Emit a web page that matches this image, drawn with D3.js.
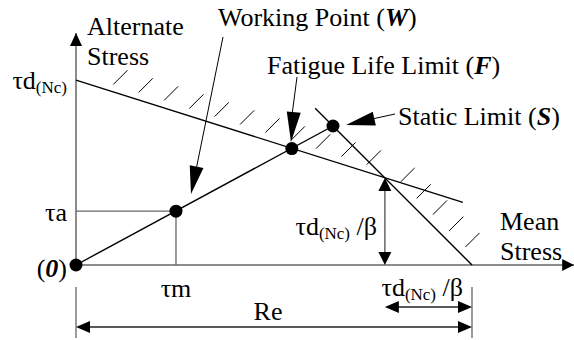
<!DOCTYPE html>
<html lang="en">
<head>
<meta charset="utf-8">
<title>Fatigue Diagram</title>
<script src="https://cdn.jsdelivr.net/npm/d3@7"></script>
<style>
  body { margin: 0; background: #fff; }
</style>
</head>
<body>
<svg id="chart" width="574" height="340"></svg>
<script>
// all stresses in units of Re
var limitNames = ["Re", "τd(Nc)", "τd(Nc)/β"];
var limitValues = [1.0, 0.467, 0.22];

var pointNames = ["0", "W", "F", "S"];
var pointMean = [0, 0.2525, 0.545, 0.649];
var pointAlt = [0, 0.136, 0.294, 0.351];

var fatigueMean = [0, 0.977];
var fatigueAlt = [0.467, 0.158];
var staticMean = [0.604, 1.0];
var staticAlt = [0.396, 0];

var axisEnd = [1.258, 0.586]; // mean, alternate

var svg = d3.select("#chart");
var x = d3.scaleLinear().domain([0, 1]).range([76, 472]);
var y = d3.scaleLinear().domain([0, 1]).range([265, -131]);

var FONT = "'Times New Roman', 'Liberation Serif', serif";
var FS = 26, SUB = 17;

function line(x1, y1, x2, y2, color, w) {
    return svg.append("line")
        .attr("x1", x1).attr("y1", y1).attr("x2", x2).attr("y2", y2)
        .attr("stroke", color).attr("stroke-width", w);
}

function arrowHead(tip, from, len, half) {
    var dx = tip[0] - from[0], dy = tip[1] - from[1];
    var d = Math.sqrt(dx * dx + dy * dy);
    var ux = dx / d, uy = dy / d;
    var bx = tip[0] - ux * len, by = tip[1] - uy * len;
    svg.append("path")
        .attr("d", "M" + tip[0] + "," + tip[1] +
            "L" + (bx - uy * half) + "," + (by + ux * half) +
            "L" + (bx + uy * half) + "," + (by - ux * half) + "Z")
        .attr("fill", "#000");
}

// hatching, drawn first so lines sit on top
function hatch(x0, y0, gap, len) {
    var c = Math.SQRT1_2;
    line(x0 + c * gap, y0 - c * gap, x0 + c * (gap + len), y0 - c * (gap + len), "#000", 1);
}
var fSlope = (fatigueAlt[1] - fatigueAlt[0]) / (fatigueMean[1] - fatigueMean[0]);
d3.range(0.08, 0.78, 0.064).forEach(function(m) {
    hatch(x(m), y(fatigueAlt[0] + fSlope * m), 8, 20);
});
d3.range(0.805, 0.99, 0.041).forEach(function(m) {
    hatch(x(m), y(1 - m), 8, 20);
});

// axes
line(x(0), y(0), x(axisEnd[0]), y(0), "#666", 1.5);
line(x(0), y(0), x(0), y(axisEnd[1]), "#666", 1.5);
arrowHead([x(axisEnd[0]), y(0)], [x(0), y(0)], 12, 6);
arrowHead([x(0), y(axisEnd[1])], [x(0), y(0)], 13, 6);

// working point projections
line(x(0), y(pointAlt[1]), x(pointMean[1]), y(pointAlt[1]), "#666", 1.3);
line(x(pointMean[1]), y(pointAlt[1]), x(pointMean[1]), y(0), "#666", 1.3);

// limit lines and load line
line(x(fatigueMean[0]), y(fatigueAlt[0]), x(fatigueMean[1]), y(fatigueAlt[1]), "#000", 1.4);
line(x(staticMean[0]), y(staticAlt[0]), x(staticMean[1]), y(staticAlt[1]), "#000", 1.4);
line(x(0), y(0), x(pointMean[3]), y(pointAlt[3]), "#000", 1.4);

// tau_d / beta vertical dimension
var xi = x(limitValues[0] - limitValues[2]);
line(xi, y(limitValues[2]) + 10, xi, y(0) - 10, "#666", 1.5);
arrowHead([xi, y(limitValues[2])], [xi, y(0)], 13, 6.5);
arrowHead([xi, y(0)], [xi, y(limitValues[2])], 13, 6.5);

// points
svg.selectAll("circle.pt")
    .data(pointNames)
    .enter().append("circle")
    .attr("class", "pt")
    .attr("cx", function(d, i) { return x(pointMean[i]); })
    .attr("cy", function(d, i) { return y(pointAlt[i]); })
    .attr("r", 6.5)
    .attr("fill", "#000");

// bottom dimensions
line(x(0), 287, x(0), 338, "#666", 1.3);
line(x(1), 287, x(1), 338, "#666", 1.3);
line(x(0) + 10, 327, x(1) - 10, 327, "#222", 1.3);
arrowHead([x(0), 327], [x(1), 327], 14, 6);
arrowHead([x(1), 327], [x(0), 327], 14, 6);
line(xi + 10, 307, x(1) - 10, 307, "#222", 1.3);
arrowHead([xi, 307], [x(1), 307], 14, 6);
arrowHead([x(1), 307], [xi, 307], 14, 6);

// leaders
line(223, 37, 196, 170, "#000", 1);
arrowHead([191, 194], [223, 37], 28, 7);
line(297, 77, 292, 115, "#000", 1);
arrowHead([291, 142], [297, 77], 30, 7);
line(395, 114, 372, 119, "#000", 1);
arrowHead([346, 125], [395, 114], 29, 7);

// text helpers
function label(tx, ty, anchor) {
    return svg.append("text").attr("x", tx).attr("y", ty)
        .attr("font-family", FONT)
        .attr("text-anchor", anchor || "start").attr("font-size", FS);
}
function tauD(t, beta) {
    t.append("tspan").text("τd");
    t.append("tspan").attr("font-size", SUB).attr("dy", 4).text("(Nc)");
    if (beta) t.append("tspan").attr("dy", -4).text(" /β");
    return t;
}
function named(t, words, letter) {
    t.append("tspan").text(words + " (");
    t.append("tspan").attr("font-weight", "bold").attr("font-style", "italic").text(letter);
    t.append("tspan").text(")");
}

label(87, 35).text("Alternate");
label(87, 65).text("Stress");
label(500, 230).text("Mean");
label(500, 260).text("Stress");

tauD(label(67, 89, "end"));
label(67, 221, "end").text("τa");
var zero = label(67, 277, "end");
zero.append("tspan").text("(");
zero.append("tspan").attr("font-weight", "bold").attr("font-style", "italic").text(pointNames[0]);
zero.append("tspan").text(")");
label(x(pointMean[1]), 297, "middle").text("τm");
tauD(label(377, 235, "end"), true);
tauD(label(463, 296, "end"), true);
label((x(0) + x(1)) / 2 - 6, 320, "middle").text(limitNames[0]);

named(label(218, 26), "Working Point", pointNames[1]);
named(label(267, 74), "Fatigue Life Limit", pointNames[2]);
named(label(398, 125), "Static Limit", pointNames[3]);
</script>
</body>
</html>
